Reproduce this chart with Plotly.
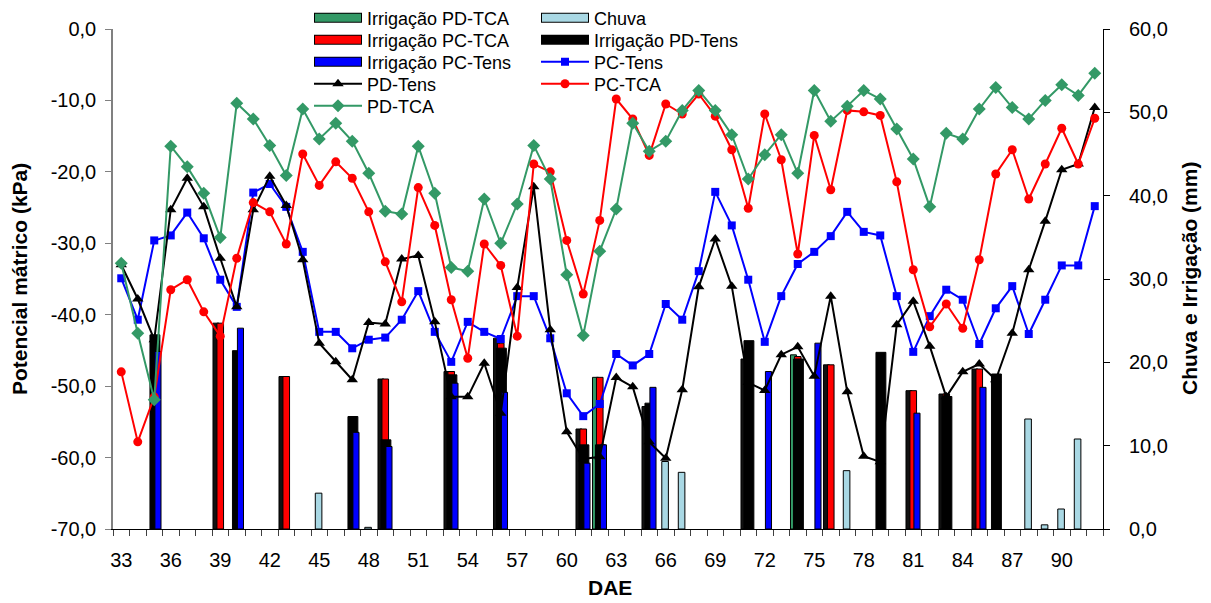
import plotly.graph_objects as go

# ---------------- data ----------------
days = list(range(33, 93))

pc_tens = [-34.9, -40.7, -29.6, -28.9, -25.7, -29.3, -35.1, -38.9, -22.9, -21.7,
           -24.9, -31.2, -42.4, -42.4, -44.7, -43.5, -43.2, -40.7, -36.7, -42.4,
           -46.6, -41.0, -42.4, -43.4, -37.4, -37.4, -43.3, -51.0, -54.2, -52.5,
           -45.5, -47.1, -45.5, -38.5, -40.7, -33.9, -22.8, -27.5, -35.1, -43.8,
           -37.4, -32.9, -31.2, -29.0, -25.6, -28.4, -28.9, -37.4, -45.2, -40.2,
           -36.5, -37.9, -44.1, -39.1, -36.0, -42.7, -37.9, -33.1, -33.1, -24.8]

pd_tens = [-33.0, -37.8, -43.5, -25.3, -20.9, -24.9, -32.1, -38.9, -25.3, -20.6,
           -24.7, -32.3, -44.0, -46.6, -49.1, -41.1, -41.3, -32.2, -31.7, -41.0,
           -51.5, -51.5, -46.8, -53.8, -36.2, -22.1, -42.1, -56.4, -60.2, -59.9,
           -48.8, -50.1, -57.8, -60.1, -50.5, -36.1, -29.4, -36.0, -49.5, -50.6,
           -45.6, -44.5, -48.6, -37.4, -50.8, -59.8, -60.6, -41.4, -38.1, -44.4,
           -51.5, -48.0, -46.9, -49.1, -42.6, -33.7, -26.9, -19.7, -18.9, -11.0]

pc_tca = [-48.0, -57.8, -51.5, -36.5, -35.1, -39.6, -43.0, -32.1, -24.3, -25.6,
          -30.1, -17.5, -21.9, -18.6, -20.9, -25.6, -32.6, -38.2, -22.2, -27.5,
          -37.9, -46.1, -30.1, -33.1, -43.0, -18.9, -20.0, -29.6, -37.1, -26.8,
          -9.8, -12.6, -17.7, -10.5, -11.9, -9.1, -12.2, -16.9, -25.1, -11.9,
          -18.3, -31.5, -14.9, -22.5, -11.4, -11.6, -12.1, -21.4, -33.7, -41.7,
          -38.5, -41.9, -32.3, -20.3, -16.9, -23.8, -18.9, -13.9, -18.9, -12.5]

pd_tca = [-32.8, -42.6, -51.9, -16.4, -19.3, -23.0, -29.2, -10.4, -12.6, -16.3,
          -20.5, -11.2, -15.4, -13.2, -15.7, -20.2, -25.5, -25.9, -16.4, -23.0,
          -33.4, -33.9, -23.8, -30.0, -24.5, -16.3, -21.0, -34.4, -42.9, -31.1,
          -25.2, -13.2, -17.1, -15.7, -11.4, -8.6, -11.4, -14.8, -21.0, -17.6,
          -14.8, -20.2, -8.6, -12.9, -10.8, -8.6, -9.8, -14.0, -18.2, -24.9,
          -14.6, -15.4, -11.2, -8.2, -11.0, -12.6, -10.0, -7.8, -9.3, -6.2]

irr_pd_tca_days = [39, 43, 49, 53, 56, 61, 62, 65, 71, 74, 76, 81, 83, 85]
irr_pd_tca_mm = [24.7, 18.3, 18.0, 18.9, 22.9, 12.0, 18.2, 14.7, 20.4, 20.9, 19.7, 16.6, 16.2, 19.2]

chuva_days = [45, 48, 66, 67, 77, 88, 89, 90, 91]
chuva_mm = [4.3, 0.2, 8.1, 6.8, 7.0, 13.2, 0.5, 2.4, 10.8]

irr_pc_tca_days = [39, 43, 49, 53, 56, 61, 62, 71, 74, 76, 81, 83, 85]
irr_pc_tca_mm = [24.7, 18.3, 18.0, 18.9, 22.3, 12.0, 18.2, 20.4, 20.7, 19.7, 16.6, 16.2, 19.2]

irr_pd_tens_days = [35, 40, 47, 49, 53, 56, 61, 62, 65, 71, 74, 79, 83, 86]
irr_pd_tens_mm = [23.3, 21.4, 13.5, 10.7, 18.5, 21.7, 10.1, 10.1, 15.1, 22.6, 20.4, 21.2, 15.9, 18.6]

irr_pc_tens_days = [35, 40, 47, 49, 53, 56, 61, 62, 65, 72, 75, 81, 85]
irr_pc_tens_mm = [21.3, 24.1, 11.6, 9.9, 17.5, 16.4, 7.9, 10.1, 17.0, 18.9, 22.3, 13.9, 17.0]

x_tick_days = list(range(33, 91, 3))
x_tick_labels = [str(d) for d in x_tick_days]
kpa_ticks = [-70, -60, -50, -40, -30, -20, -10, 0]
kpa_tick_labels = ["-70,0", "-60,0", "-50,0", "-40,0", "-30,0", "-20,0", "-10,0", "0,0"]
mm_ticks = [0, 10, 20, 30, 40, 50, 60]
mm_tick_labels = ["0,0", "10,0", "20,0", "30,0", "40,0", "50,0", "60,0"]

# ---------------- styling ----------------
FONT = "Liberation Sans, Arial, sans-serif"
GREEN = "#339966"
RED = "#FF0000"
BLUE = "#0000FF"
BLACK = "#000000"
RAIN = "#A9D8E4"

# in the source picture the PD-TCA bars that sit behind the red ones look dark
GREEN_VISIBLE_DAYS = (62, 74)
green_bar_colors = [GREEN if d in GREEN_VISIBLE_DAYS else "#111111" for d in irr_pd_tca_days]

# page is rendered with an 8px body margin
OFF = 8
W, H = 1203, 595
L, R, T, B = 105, 108, 21, 74
pw, ph = W - L - R, H - T - B


def px_x(page_x):
    return (page_x - OFF - L) / pw


def px_y(page_y):
    return (H - B - (page_y - OFF)) / ph


COL1, COL2 = 309, 536
ROWS = [18, 40, 62, 84, 106]
IW = 48

fig = go.Figure()

bar_specs = [
    # name, days, values, colors, legend colour, offset, width, legend slot (col,row)
    ("Irrigação PD-TCA", irr_pd_tca_days, irr_pd_tca_mm, green_bar_colors, GREEN, -0.44, 0.36, (0, 0)),
    ("Chuva", chuva_days, chuva_mm, RAIN, RAIN, -0.24, 0.40, (1, 0)),
    ("Irrigação PC-TCA", irr_pc_tca_days, irr_pc_tca_mm, RED, RED, -0.20, 0.40, (0, 1)),
    ("Irrigação PD-Tens", irr_pd_tens_days, irr_pd_tens_mm, BLACK, BLACK, -0.26, 0.60, (1, 1)),
    ("Irrigação PC-Tens", irr_pc_tens_days, irr_pc_tens_mm, BLUE, BLUE, 0.04, 0.37, (0, 2)),
]
line_specs = [
    ("PC-Tens", pc_tens, BLUE, "square", 8, (1, 2)),
    ("PD-Tens", pd_tens, BLACK, "triangle-up", 10, (0, 3)),
    ("PC-TCA", pc_tca, RED, "circle", 9, (1, 3)),
    ("PD-TCA", pd_tca, GREEN, "diamond", 10, (0, 4)),
]

legend_layouts = {}
counter = [0]


def new_legend(slot, dx=0, iw=IW):
    counter[0] += 1
    key = "legend" if counter[0] == 1 else "legend%d" % counter[0]
    col, row = slot
    legend_layouts[key] = dict(
        x=px_x((COL1 if col == 0 else COL2) + dx), y=px_y(ROWS[row]),
        xanchor="left", yanchor="middle",
        bgcolor="rgba(0,0,0,0)", borderwidth=0,
        font=dict(size=18, family=FONT, color="black"),
        itemwidth=iw, orientation="v",
    )
    return key


# bars (drawn first, lines go on top through the overlaying axis)
for name, dx, vy, cols, lcol, off, wid, slot in bar_specs:
    fig.add_trace(go.Bar(
        x=dx, y=vy, name=name, yaxis="y", offset=off, width=wid,
        marker=dict(color=cols, line=dict(color="black", width=1)),
        showlegend=False, hoverinfo="x+y+name",
    ))

# legend swatches for the bar series: wide outlined rectangles
for name, dx, vy, cols, lcol, off, wid, slot in bar_specs:
    fig.add_trace(go.Scatter(
        x=[None], y=[None], name=name, mode="lines", yaxis="y",
        line=dict(color="black", width=10), legend=new_legend(slot),
        hoverinfo="skip",
    ))
    fig.add_trace(go.Scatter(
        x=[None], y=[None], name=" ", mode="lines", yaxis="y",
        line=dict(color=lcol, width=8), legend=new_legend(slot, dx=1, iw=IW - 2),
        hoverinfo="skip",
    ))

for name, vy, col, sym, size, slot in line_specs:
    fig.add_trace(go.Scatter(
        x=days, y=vy, name=name, yaxis="y2", mode="lines+markers",
        line=dict(color=col, width=2),
        marker=dict(symbol=sym, size=size, color=col, line=dict(width=0)),
        legend=new_legend(slot),
    ))

fig.update_layout(
    width=W, height=H,
    margin=dict(l=L, r=R, t=T, b=B, pad=0, autoexpand=False),
    paper_bgcolor="white", plot_bgcolor="white",
    font=dict(family=FONT, size=20, color="black"),
    barmode="overlay",
    showlegend=True,
    xaxis=dict(
        range=[32.5, 92.5], tickmode="array", tickvals=x_tick_days, ticktext=x_tick_labels,
        ticks="", showline=True, linecolor="black", linewidth=1, showgrid=False,
        zeroline=False, ticklabelstandoff=13,
        minor=dict(tick0=32.5, dtick=1, ticks="outside", ticklen=6, tickcolor="#404040",
                   showgrid=False),
        tickfont=dict(size=20),
    ),
    yaxis=dict(
        range=[0, 60], side="right", tickmode="array", tickvals=mm_ticks, ticktext=mm_tick_labels,
        ticks="outside", ticklen=6, tickcolor="black", showline=True, linecolor="black",
        linewidth=1, showgrid=False, zeroline=False, ticklabelstandoff=15,
        tickfont=dict(size=20),
    ),
    yaxis2=dict(
        range=[-70, 0], side="left", overlaying="y", anchor="x", tickmode="array",
        tickvals=kpa_ticks, ticktext=kpa_tick_labels, ticks="outside", ticklen=6,
        tickcolor="#808080", showline=True, linecolor="#808080", linewidth=1.5,
        showgrid=False, zeroline=False, ticklabelstandoff=5,
        tickfont=dict(size=20),
    ),
    annotations=[
        dict(text="<b>Potencial mátrico (kPa)</b>", xref="paper", yref="paper",
             x=px_x(19), y=0.5, textangle=-90, showarrow=False,
             xanchor="center", yanchor="middle", font=dict(size=21, family=FONT)),
        dict(text="<b>Chuva e Irrigação (mm)</b>", xref="paper", yref="paper",
             x=px_x(1189), y=0.5, textangle=-90, showarrow=False,
             xanchor="center", yanchor="middle", font=dict(size=21, family=FONT)),
        dict(text="<b>DAE</b>", xref="paper", yref="paper",
             x=px_x(610), y=px_y(588), showarrow=False,
             xanchor="center", yanchor="middle", font=dict(size=21, family=FONT)),
    ],
)
fig.update_layout(**legend_layouts)

fig.write_html("out.html")
